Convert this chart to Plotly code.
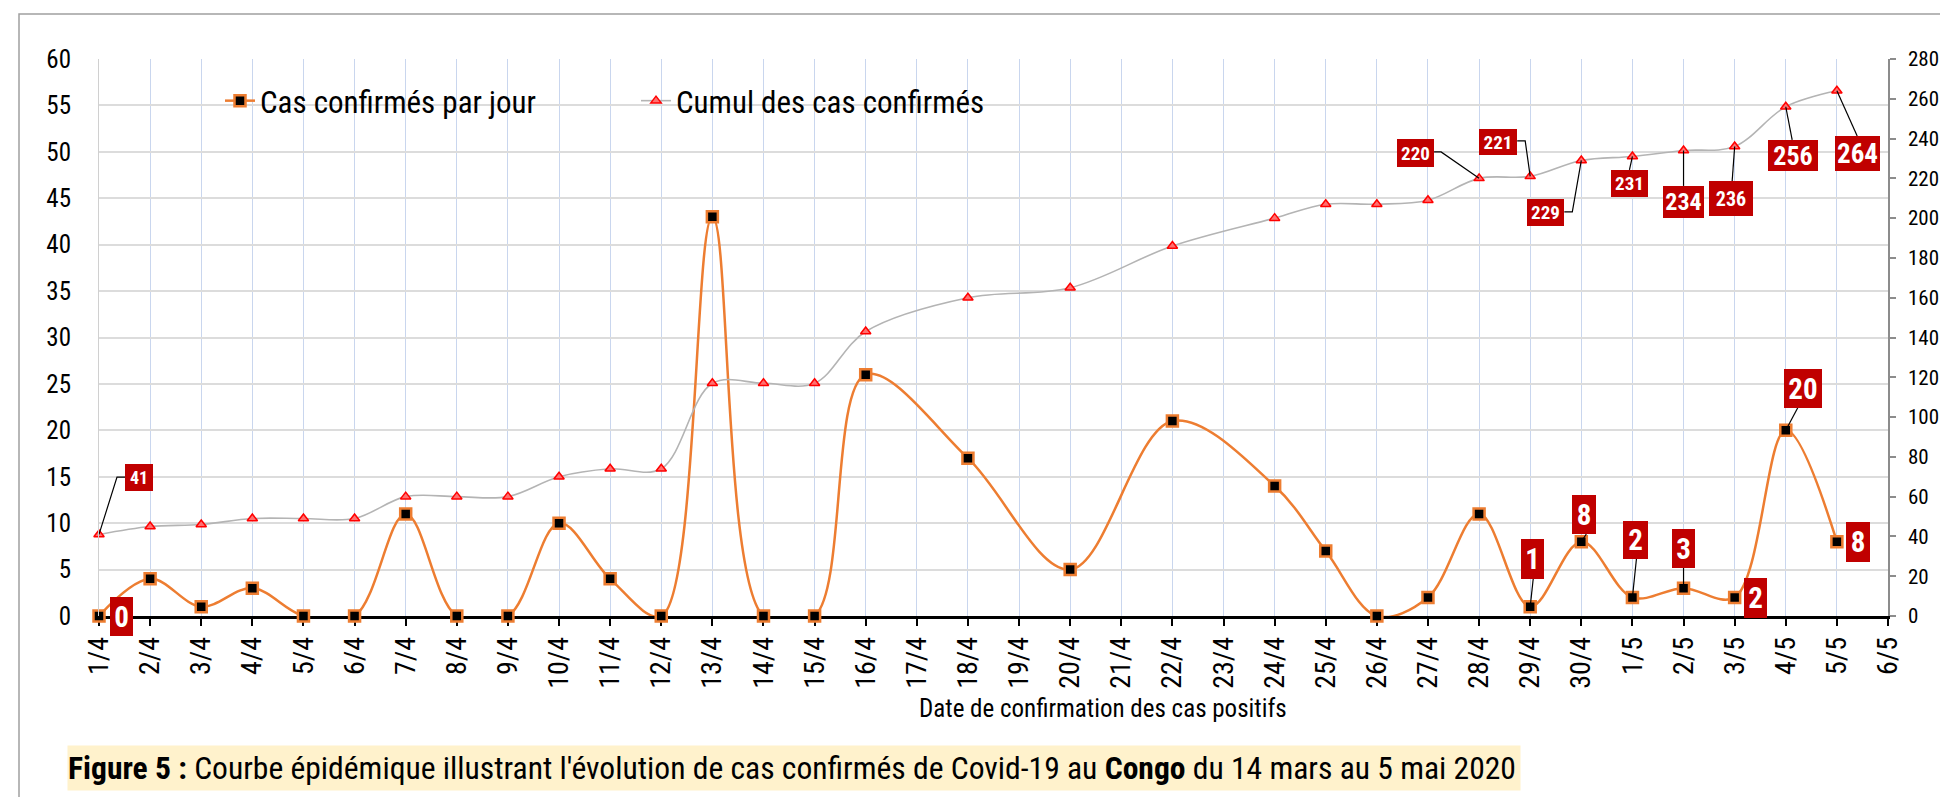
import plotly.graph_objects as go

# ---------------- data ----------------
dates = ["1/4", "2/4", "3/4", "4/4", "5/4", "6/4", "7/4", "8/4", "9/4", "10/4",
         "11/4", "12/4", "13/4", "14/4", "15/4", "16/4", "17/4", "18/4", "19/4", "20/4",
         "21/4", "22/4", "23/4", "24/4", "25/4", "26/4", "27/4", "28/4", "29/4", "30/4",
         "1/5", "2/5", "3/5", "4/5", "5/5", "6/5"]

obs_dates = ["1/4", "2/4", "3/4", "4/4", "5/4", "6/4", "7/4", "8/4", "9/4", "10/4",
             "11/4", "12/4", "13/4", "14/4", "15/4", "16/4", "18/4", "20/4", "22/4", "24/4",
             "25/4", "26/4", "27/4", "28/4", "29/4", "30/4", "1/5", "2/5", "3/5", "4/5", "5/5"]

daily_cases = [0, 4, 1, 3, 0, 0, 11, 0, 0, 10,
               4, 0, 43, 0, 0, 26, 17, 5, 21, 14,
               7, 0, 2, 11, 1, 8, 2, 3, 2, 20, 8]

cumul_cases = [41, 45, 46, 49, 49, 49, 60, 60, 60, 70,
               74, 74, 117, 117, 117, 143, 160, 165, 186, 200,
               207, 207, 209, 220, 221, 229, 231, 234, 236, 256, 264]

daily_label_dates = ["1/4", "29/4", "30/4", "1/5", "2/5", "3/5", "4/5", "5/5"]
cumul_label_dates = ["1/4", "28/4", "29/4", "30/4", "1/5", "2/5", "3/5", "4/5", "5/5"]

name_daily = "Cas confirmés par jour"
name_cumul = "Cumul des cas confirmés"
x_title = "Date de confirmation des cas positifs"
caption = ("<b>Figure 5 :</b> Courbe épidémique illustrant l'évolution de cas confirmés "
           "de Covid-19 au <b>Congo</b> du 14 mars au 5 mai 2020")

# ---------------- label styling (pixel offsets, y up) ----------------
# date: (dx, dy, w, h, fontsize, leader path points)
daily_label_style = {
    "1/4":  (22.5, 0, 23, 39, 29, None),
    "29/4": (2.5, 47.7, 23, 40, 29, [(0, 0), (3, 27.7)]),
    "30/4": (3, 27.2, 24, 39, 29, [(0, 0), (5, 7.7)]),
    "1/5":  (3.5, 57.4, 25, 38, 29, [(0, 0), (4, 38.4)]),
    "2/5":  (-0.5, 39.7, 23, 39, 29, [(0, 0), (0, 20.2)]),
    "3/5":  (21, -0.6, 23, 40, 29, None),
    "4/5":  (17.4, 42, 38, 39, 29, [(0, 0), (12, 22.5)]),
    "5/5":  (21.3, -0.3, 24, 40, 29, None),
}
cumul_label_style = {
    "1/4":  (40, 56.9, 28, 27, 18, [(0, 0), (18, 57.4), (26, 57.4)]),
    "28/4": (-63.5, 25.4, 37, 28, 19, [(0, 0), (-38, 26.4), (-45, 26.4)]),
    "29/4": (-32, 34.4, 38, 26, 19, [(0, 0), (-5, 35.4), (-13, 35.4)]),
    "30/4": (-35.5, -52, 37, 27, 19, [(0, 0), (-9, -51.5), (-17, -51.5)]),
    "1/5":  (-2.5, -27, 37, 27, 19, [(0, 0), (-3, -13.5)]),
    "2/5":  (-0.5, -51.4, 41, 32, 24, [(0, 0), (0, -35.4)]),
    "3/5":  (-3.5, -51.9, 44, 35, 20, [(0, 0), (-2.5, -34.4)]),
    "4/5":  (7.4, -48.7, 50, 31, 26, [(0, 0), (6.4, -33.2)]),
    "5/5":  (20.8, -62.6, 45, 35, 27, [(0, 0), (20.3, -45.1)]),
}

FONT = "Liberation Sans Narrow, Arial Narrow, Roboto Condensed, Liberation Sans, Arial, sans-serif"
ORANGE = "#ED7D31"
LABEL_RED = "#C00000"

W, H = 1948, 797
L, R, T, B = 91, 68, 51, 189
PW, PH = W - L - R, H - T - B

xpos = [dates.index(d) for d in obs_dates]

fig = go.Figure()

fig.add_trace(go.Scatter(
    x=xpos, y=cumul_cases, name=name_cumul, yaxis="y2",
    mode="lines+markers", line=dict(color="#B4B4B4", width=1.6, shape="spline", smoothing=1),
    marker=dict(symbol="triangle-up", size=9, color="#FF7070", line=dict(color="#FF0000", width=1.5)),
    cliponaxis=False, legendrank=2,
))
fig.add_trace(go.Scatter(
    x=xpos, y=daily_cases, name=name_daily, yaxis="y",
    mode="lines+markers", line=dict(color=ORANGE, width=2.5, shape="spline", smoothing=1),
    marker=dict(symbol="square", size=11, color="#000000", line=dict(color=ORANGE, width=2.5)),
    cliponaxis=False, legendrank=1,
))

annotations = []
shapes = []


def add_labels(label_dates, values_by_date, style, yref):
    for d in label_dates:
        v = values_by_date[d]
        dx, dy, w, h, fs, path = style[d]
        xi = dates.index(d)
        annotations.append(dict(
            x=xi, y=v, xref="x", yref=yref, text="<b>%d</b>" % v, showarrow=False,
            xshift=dx, yshift=dy, width=w, height=h, bgcolor=LABEL_RED,
            borderpad=0, borderwidth=0, font=dict(family=FONT, size=fs, color="white"),
            align="center", valign="middle",
        ))
        if path:
            p = "M" + " L".join("%g,%g" % pt for pt in path)
            shapes.append(dict(
                type="path", xref="x", yref=yref, xsizemode="pixel", ysizemode="pixel",
                xanchor=xi, yanchor=v, path=p, line=dict(color="#000000", width=1.2),
            ))


add_labels(daily_label_dates, dict(zip(obs_dates, daily_cases)), daily_label_style, "y")
add_labels(cumul_label_dates, dict(zip(obs_dates, cumul_cases)), cumul_label_style, "y2")

# axis title (as annotation, off-centre like original)
annotations.append(dict(
    x=(1095 - L) / PW, y=(T + PH - 700) / PH, xref="paper", yref="paper",
    text=x_title, showarrow=False, xanchor="center", yanchor="middle",
    font=dict(family=FONT, size=25, color="#000000"),
))
# caption
annotations.append(dict(
    x=(59 - L) / PW, y=(T + PH - 760) / PH, xref="paper", yref="paper",
    text=caption, showarrow=False, xanchor="left", yanchor="middle",
    width=1452, height=44, align="left", valign="middle", bgcolor="#FFF2CC", borderpad=0,
    font=dict(family=FONT, size=31.6, color="#000000"),
))

# outer frame
shapes.append(dict(
    type="rect", xref="paper", yref="paper", layer="below",
    x0=(11 - L) / PW, x1=(1943 - L) / PW, y0=-0.5, y1=(T + PH - 6) / PH,
    line=dict(color="#A0A0A0", width=1.5), fillcolor="rgba(0,0,0,0)",
))

fig.update_layout(
    width=W, height=H, margin=dict(l=L, r=R, t=T, b=B, autoexpand=False),
    paper_bgcolor="white", plot_bgcolor="white",
    font=dict(family=FONT, color="#000000"),
    showlegend=True,
    legend=dict(orientation="h", x=(212 - L) / PW, y=(T + PH - 93) / PH, xanchor="left", yanchor="middle",
                bgcolor="rgba(0,0,0,0)", font=dict(family=FONT, size=31, color="#000000"),
                entrywidth=371, entrywidthmode="pixels", traceorder="normal"),
    xaxis=dict(
        range=[0, len(dates) - 1], tickmode="array", tickvals=list(range(len(dates))), ticktext=dates,
        tickangle=-90, tickfont=dict(family=FONT, size=28, color="#000000"),
        showgrid=True, gridcolor="#C9D6EE", gridwidth=1, zeroline=False,
        showline=True, linecolor="#000000", linewidth=2.5,
        ticks="outside", ticklen=7, tickwidth=2, tickcolor="#000000", layer="below traces",
    ),
    yaxis=dict(
        range=[0, 60], dtick=5, tickfont=dict(family=FONT, size=25, color="#000000"),
        showgrid=True, gridcolor="#DCDCDC", gridwidth=2, zeroline=False,
        showline=True, linecolor="#D0D0D0", linewidth=1, ticks="", ticklabelstandoff=22,
    ),
    yaxis2=dict(
        range=[0, 280], dtick=20, overlaying="y", side="right",
        tickfont=dict(family=FONT, size=21, color="#000000"),
        showgrid=False, zeroline=False, showline=True, linecolor="#8C8C8C", linewidth=1.5,
        ticks="outside", ticklen=6, tickcolor="#8C8C8C", tickwidth=1.5, ticklabelstandoff=8,
    ),
    annotations=annotations, shapes=shapes,
)

fig.write_html("out.html")
